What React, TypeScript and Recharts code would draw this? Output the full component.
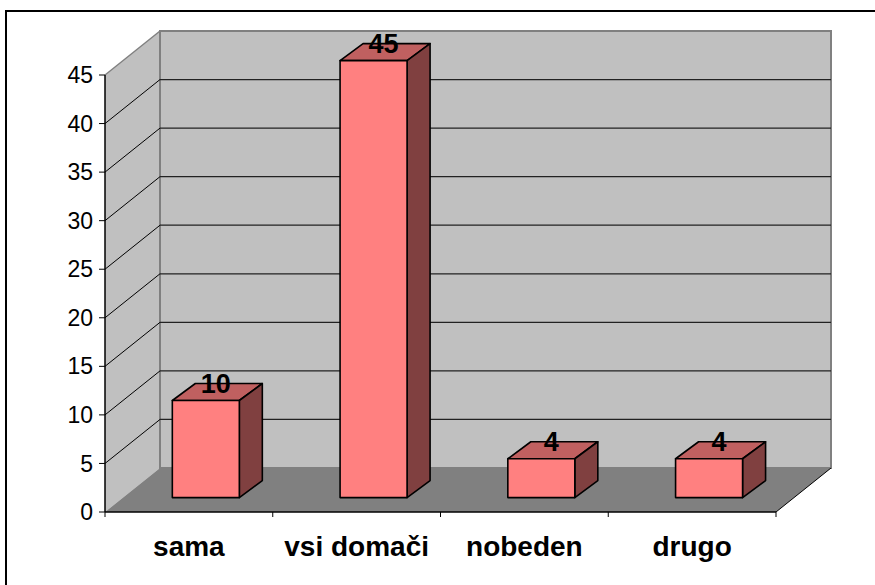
import React from 'react';
import { BarChart, Bar, XAxis, YAxis, CartesianGrid, LabelList } from 'recharts';

const categories = ['sama', 'vsi domači', 'nobeden', 'drugo'];
const counts = [10, 45, 4, 4];
const yTicks = [0, 5, 10, 15, 20, 25, 30, 35, 40, 45];

const data = categories.map((name, i) => ({ name, value: counts[i] }));

const DEPTH_X = 55;
const DEPTH_Y = -44;
const BAR_OFF_X = 17;
const BAR_OFF_Y = -14.4;
const BAR_DEPTH_X = 23;
const BAR_DEPTH_Y = -17;
const FONT = '"Liberation Sans", Arial, Helvetica, sans-serif';

const WALL = '#C0C0C0';
const WALL_EDGE = '#808080';
const FLOOR = '#808080';

const gridLine = (p: any) => {
  const { y1, index, x, y, width, height } = p;
  const L = Number(x);
  const R = L + Number(width);
  const T = Number(y);
  const B = T + Number(height);
  const yy = Number(y1);
  const isEdge = Math.abs(yy - T) < 0.5 || Math.abs(yy - B) < 0.5;
  return (
    <g key={`grid-${index}`}>
      {index === 0 && (
        <g>
          <polygon
            points={`${L},${B} ${L},${T} ${L + DEPTH_X},${T + DEPTH_Y} ${L + DEPTH_X},${B + DEPTH_Y}`}
            fill={WALL}
            stroke="none"
          />
          <rect
            x={L + DEPTH_X}
            y={T + DEPTH_Y}
            width={R - L}
            height={B - T}
            fill={WALL}
            stroke={WALL_EDGE}
            strokeWidth={2}
          />
          <line x1={L} y1={T} x2={L + DEPTH_X} y2={T + DEPTH_Y} stroke={WALL_EDGE} strokeWidth={1.5} />
          <polygon
            points={`${L},${B} ${R},${B} ${R + DEPTH_X},${B + DEPTH_Y} ${L + DEPTH_X},${B + DEPTH_Y}`}
            fill={FLOOR}
            stroke="none"
          />
          <line x1={R} y1={B} x2={R + DEPTH_X} y2={B + DEPTH_Y} stroke="#000" strokeWidth={1} />
        </g>
      )}
      {!isEdge && (
        <g>
          <line x1={L} y1={yy} x2={L + DEPTH_X} y2={yy + DEPTH_Y} stroke="#000" strokeWidth={1} />
          <line x1={L + DEPTH_X} y1={yy + DEPTH_Y} x2={R + DEPTH_X} y2={yy + DEPTH_Y} stroke="#222" strokeWidth={1.2} />
        </g>
      )}
    </g>
  );
};

const Box3D = (p: any) => {
  const x = Number(p.x);
  const y = Number(p.y);
  const w = Number(p.width);
  const h = Number(p.height);
  if (!isFinite(x) || !isFinite(y) || !(w > 0)) return <g />;
  const fx = x + BAR_OFF_X;
  const fy = y + BAR_OFF_Y;
  return (
    <g strokeLinejoin="round">
      <polygon
        points={`${fx},${fy} ${fx + BAR_DEPTH_X},${fy + BAR_DEPTH_Y} ${fx + w + BAR_DEPTH_X},${fy + BAR_DEPTH_Y} ${fx + w},${fy}`}
        fill="#C06060"
        stroke="#000"
        strokeWidth={1.6}
      />
      <polygon
        points={`${fx + w},${fy} ${fx + w + BAR_DEPTH_X},${fy + BAR_DEPTH_Y} ${fx + w + BAR_DEPTH_X},${fy + h + BAR_DEPTH_Y} ${fx + w},${fy + h}`}
        fill="#804040"
        stroke="#000"
        strokeWidth={1.6}
      />
      <rect x={fx} y={fy} width={w} height={h} fill="#FF8080" stroke="#000" strokeWidth={1.6} />
    </g>
  );
};

const renderLabel = (p: any) => {
  const x = Number(p.x);
  const y = Number(p.y);
  const w = Number(p.width);
  return (
    <text
      x={x + w / 2 + BAR_OFF_X + 10}
      y={y + BAR_OFF_Y - 7.5}
      textAnchor="middle"
      fontSize={27}
      fontWeight="bold"
      fontFamily={FONT}
      fill="#000"
    >
      {p.value}
    </text>
  );
};

const CatTick = (p: any) => {
  const { x, y, payload, index, visibleTicksCount } = p;
  const half = payload && typeof payload.offset === 'number' && payload.offset > 0 ? payload.offset : 83.8;
  const last = index === (visibleTicksCount ?? categories.length) - 1;
  const X = Number(x);
  const Y = Number(y);
  return (
    <g>
      <line x1={X - half} y1={Y} x2={X - half} y2={Y + 5} stroke="#000" strokeWidth={1} />
      {last && <line x1={X + half} y1={Y} x2={X + half} y2={Y + 5} stroke="#000" strokeWidth={1} />}
      <text
        x={X}
        y={Y + 44}
        textAnchor="middle"
        fontSize={28}
        fontWeight="bold"
        fontFamily={FONT}
        fill="#000"
      >
        {payload.value}
      </text>
    </g>
  );
};

export default function App() {
  return (
    <div style={{ position: 'absolute', left: 0, top: 0, width: 875, height: 585, overflow: 'hidden', background: '#fff' }}>
      <div
        style={{
          position: 'absolute',
          left: 5,
          top: 10,
          width: 900,
          height: 600,
          border: '2px solid #000',
        }}
      />
      <div style={{ position: 'absolute', left: 0, top: 0 }}>
        <BarChart
          width={875}
          height={585}
          data={data}
          margin={{ top: 75, right: 99, bottom: 0, left: 0 }}
          barCategoryGap="30%"
        >
          <CartesianGrid horizontal={gridLine} vertical={false} />
          <XAxis
            dataKey="name"
            height={73}
            tickLine={false}
            tickSize={0}
            tickMargin={0}
            axisLine={{ stroke: '#000', strokeWidth: 1.5 }}
            tick={<CatTick />}
            interval={0}
          />
          <YAxis
            width={105}
            domain={[0, 45]}
            ticks={yTicks}
            interval={0}
            tickSize={6}
            tickMargin={6}
            axisLine={{ stroke: '#000', strokeWidth: 1.5 }}
            tickLine={{ stroke: '#000' }}
            tick={{ fontSize: 23, fill: '#000', fontFamily: FONT }}
          />
          <Bar dataKey="value" shape={<Box3D />} isAnimationActive={false}>
            <LabelList dataKey="value" content={renderLabel} />
          </Bar>
        </BarChart>
      </div>
    </div>
  );
}
